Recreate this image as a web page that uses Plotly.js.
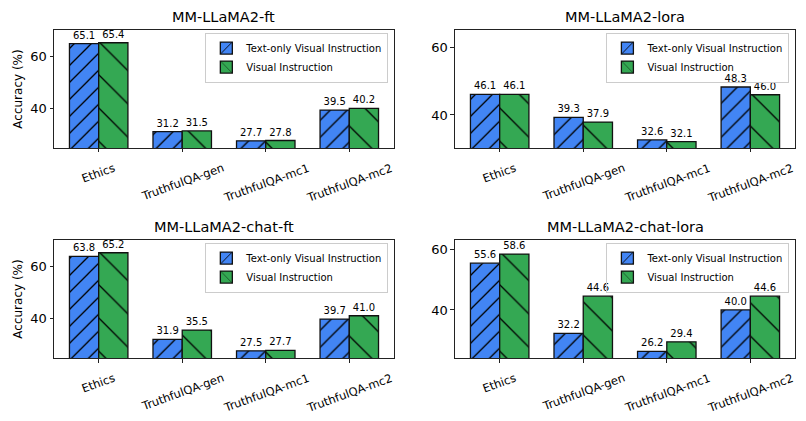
<!DOCTYPE html>
<html>
<head>
<meta charset="utf-8">
<script src="https://cdn.plot.ly/plotly-3.0.1.min.js"></script>
<style>
  html, body { margin: 0; padding: 0; background: #fff; }
  #chart { width: 806px; height: 421px; }
</style>
</head>
<body>
<div id="chart"></div>
<script>
var categories = ['Ethics', 'TruthfulQA-gen', 'TruthfulQA-mc1', 'TruthfulQA-mc2'];
var seriesNames = ['Text-only Visual Instruction', 'Visual Instruction'];

var panelTitles = ['MM-LLaMA2-ft', 'MM-LLaMA2-lora', 'MM-LLaMA2-chat-ft', 'MM-LLaMA2-chat-lora'];

// text-only / visual instruction accuracy per panel
var ftText = [65.1, 31.2, 27.7, 39.5];
var ftVisual = [65.4, 31.5, 27.8, 40.2];
var loraText = [46.1, 39.3, 32.6, 48.3];
var loraVisual = [46.1, 37.9, 32.1, 46.0];
var chatFtText = [63.8, 31.9, 27.5, 39.7];
var chatFtVisual = [65.2, 35.5, 27.7, 41.0];
var chatLoraText = [55.6, 32.2, 26.2, 40.0];
var chatLoraVisual = [58.6, 44.6, 29.4, 44.6];

var textSeries = [ftText, loraText, chatFtText, chatLoraText];
var visualSeries = [ftVisual, loraVisual, chatFtVisual, chatLoraVisual];

var yRanges = [[24.93, 70.3], [30.2, 65.2], [24.75, 70.1], [24.0, 63.3]];

var BLUE = '#4285F4';
var GREEN = '#34A853';
var FONT = 'DejaVu Sans, sans-serif';

var xDomains = [[0.067, 0.4888], [0.5645, 0.9864], [0.067, 0.4888], [0.5645, 0.9864]];
var yDomains = [[0.6485, 0.9287], [0.6485, 0.9287], [0.1496, 0.4299], [0.1496, 0.4299]];

var data = [];
var annotations = [];
var layout = {
  width: 806, height: 421,
  margin: {t: 0, b: 0, l: 0, r: 0},
  paper_bgcolor: '#fff', plot_bgcolor: '#fff',
  font: {family: FONT, color: '#000'},
  barmode: 'group', bargap: 0.3, bargroupgap: 0,
  annotations: annotations
};

for (var i = 0; i < 4; i++) {
  var sfx = i === 0 ? '' : String(i + 1);
  var legName = 'legend' + sfx;
  // hatch: '/' dense for text-only, '\' sparse for visual
  var pairs = [[textSeries[i], BLUE, '/', 12, 0.11], [visualSeries[i], GREEN, '\\', 23.5, 0.056]];
  pairs.forEach(function (p, k) {
    data.push({
      type: 'bar',
      name: seriesNames[k],
      x: categories,
      y: p[0],
      xaxis: 'x' + sfx, yaxis: 'y' + sfx,
      legend: legName,
      marker: {
        color: p[1],
        line: {color: '#111', width: 1.3},
        pattern: {shape: p[2], size: p[3], solidity: p[4], fgcolor: '#000', fgopacity: 1, bgcolor: p[1], fillmode: 'overlay'}
      },
      text: p[0].map(function (v) { return v.toFixed(1); }),
      textposition: 'outside',
      constraintext: 'none',
      cliponaxis: false,
      textfont: {size: 10, color: '#000', family: FONT},
      hoverinfo: 'none'
    });
  });

  layout['xaxis' + sfx] = {
    domain: xDomains[i], anchor: 'y' + sfx,
    type: 'category', range: [-0.535, 3.535],
    showticklabels: false, ticks: 'outside', ticklen: 3.5, tickcolor: '#222',
    showline: true, mirror: true, linecolor: '#222', linewidth: 1,
    showgrid: false, zeroline: false, fixedrange: true
  };
  layout['yaxis' + sfx] = {
    domain: yDomains[i], anchor: 'x' + sfx,
    range: yRanges[i], tick0: 0, dtick: 20,
    ticks: 'outside', ticklen: 3.5, tickcolor: '#222',
    tickfont: {size: 13, family: FONT},
    showline: true, mirror: true, linecolor: '#222', linewidth: 1,
    showgrid: false, zeroline: false, fixedrange: true,
    title: (i % 2 === 0) ? {text: 'Accuracy (%)', font: {size: 12, family: FONT}, standoff: 5} : {text: ''}
  };
  layout[legName] = {
    x: xDomains[i][1] - 0.007, y: yDomains[i][1] - 0.006,
    xanchor: 'right', yanchor: 'top',
    bgcolor: 'rgba(255,255,255,0)', bordercolor: '#ccc', borderwidth: 1,
    font: {size: 10, family: FONT}, tracegroupgap: 0, itemclick: false
  };

  annotations.push({
    text: panelTitles[i], xref: 'x' + sfx + ' domain', yref: 'y' + sfx + ' domain',
    x: 0.5, y: 1, xanchor: 'center', yanchor: 'bottom', yshift: 3,
    showarrow: false, font: {size: 14.5, family: FONT}
  });

  categories.forEach(function (c) {
    annotations.push({
      text: c, xref: 'x' + sfx, yref: 'y' + sfx + ' domain',
      x: c, y: 0, xanchor: 'center', yanchor: 'top', yshift: -10,
      textangle: -20, showarrow: false, font: {size: 11.5, family: FONT}
    });
  });
}

Plotly.newPlot('chart', data, layout, {displayModeBar: false, staticPlot: true});
</script>
</body>
</html>
